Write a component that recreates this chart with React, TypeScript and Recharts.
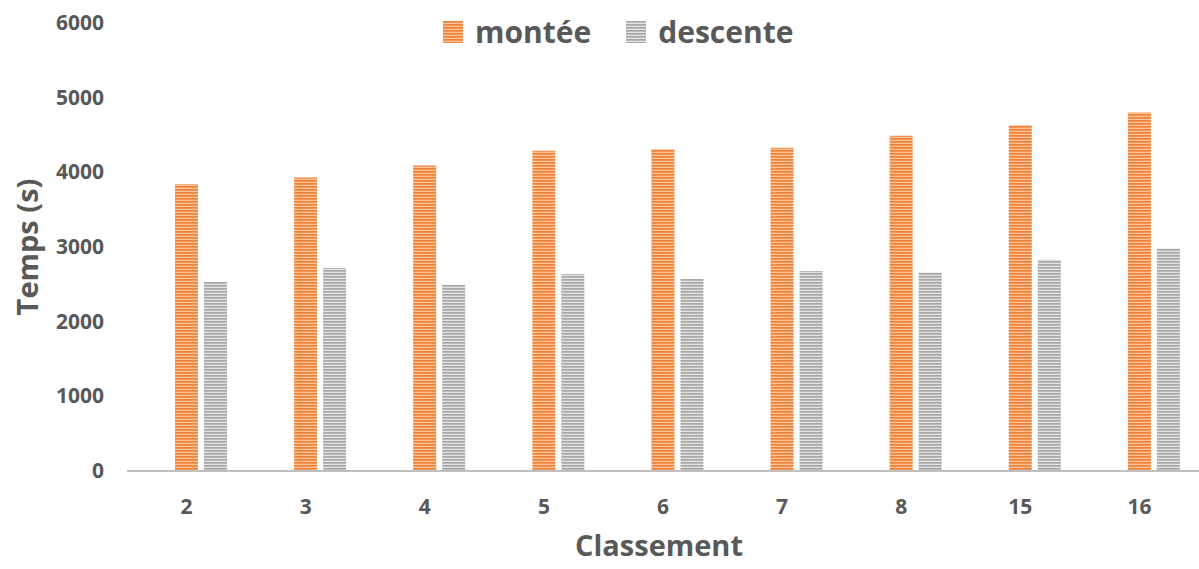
import React from 'react';
import { BarChart, Bar, XAxis, YAxis, Label } from 'recharts';

const categories = ['2', '3', '4', '5', '6', '7', '8', '15', '16'];
const montee = [3840, 3930, 4090, 4290, 4310, 4330, 4490, 4630, 4800];
const descente = [2530, 2720, 2490, 2640, 2570, 2680, 2660, 2830, 2980];
const yTicks = [0, 1000, 2000, 3000, 4000, 5000, 6000];
const seriesNames = ['montée', 'descente'];

const data = categories.map((c, i) => ({ cat: c, montee: montee[i], descente: descente[i] }));

const FONT = '"Open Sans", "Liberation Sans", sans-serif';
const TXT = '#595959';

const YTick = (props: any) => {
  const { y, payload } = props;
  return (
    <text x={104} y={y} dy={7} textAnchor="end" fontFamily={FONT} fontWeight={700} fontSize={21} fill={TXT}>
      {payload.value}
    </text>
  );
};

const XTick = (props: any) => {
  const { x, y, payload } = props;
  return (
    <text x={x} y={y} dy={35} textAnchor="middle" fontFamily={FONT} fontWeight={700} fontSize={21} fill={TXT}>
      {payload.value}
    </text>
  );
};

export default function App() {
  return (
    <div style={{ position: 'absolute', left: 0, top: 0, width: 1199, height: 569, background: '#fff' }}>
      <svg width={0} height={0} style={{ position: 'absolute' }}>
        <defs>
          <pattern id="stripeOrange" patternUnits="userSpaceOnUse" width={4} height={3}>
            <rect x={0} y={0} width={4} height={3} fill="#F9C39C" />
            <rect x={0} y={0} width={4} height={1.7} fill="#EF8236" />
          </pattern>
          <pattern id="stripeGrey" patternUnits="userSpaceOnUse" width={4} height={3}>
            <rect x={0} y={0} width={4} height={3} fill="#E2E2E2" />
            <rect x={0} y={0} width={4} height={1.7} fill="#A8A8A8" />
          </pattern>
        </defs>
      </svg>
      <div
        style={{
          position: 'absolute',
          left: 443,
          top: 12,
          display: 'flex',
          alignItems: 'center',
          fontFamily: FONT,
          fontWeight: 700,
          fontSize: 30,
          color: TXT,
          zIndex: 2,
        }}
      >
        {seriesNames.map((n, i) => (
          <div key={n} style={{ display: 'flex', alignItems: 'center', marginRight: i === 0 ? 35 : 0 }}>
            <svg width={20} height={22} style={{ marginRight: 12 }}>
              <rect x={0} y={0} width={20} height={22} fill={i === 0 ? 'url(#stripeOrange)' : 'url(#stripeGrey)'} />
            </svg>
            <span style={{ lineHeight: '40px' }}>{n}</span>
          </div>
        ))}
      </div>
      <BarChart
        width={1199}
        height={569}
        data={data}
        margin={{ top: 23, right: 0, left: 0, bottom: 0 }}
        barSize={23}
        barGap={6}
      >
        <XAxis
          dataKey="cat"
          height={98}
          axisLine={{ stroke: '#BFBFBF', strokeWidth: 2 }}
          tickLine={false}
          tick={<XTick />}
          interval={0}
        >
          <Label
            content={(p: any) => {
              const vb = p.viewBox;
              return (
                <text x={vb.x + vb.width / 2 - 4} y={556} textAnchor="middle" fontFamily={FONT} fontWeight={700} fontSize={29} fill={TXT}>
                  Classement
                </text>
              );
            }}
          />
        </XAxis>
        <YAxis
          width={127}
          domain={[0, 6000]}
          ticks={yTicks}
          axisLine={false}
          tickLine={false}
          tick={<YTick />}
          interval={0}
        >
          <Label
            content={(p: any) => {
              const vb = p.viewBox;
              const cy = vb.y + vb.height / 2;
              return (
                <text x={38} y={cy} transform={`rotate(-90 38 ${cy})`} textAnchor="middle" fontFamily={FONT} fontWeight={700} fontSize={29} fill={TXT}>
                  Temps (s)
                </text>
              );
            }}
          />
        </YAxis>
        <Bar dataKey="spacer" fill="transparent" legendType="none" isAnimationActive={false} />
        <Bar dataKey="montee" name={seriesNames[0]} fill="url(#stripeOrange)" isAnimationActive={false} />
        <Bar dataKey="descente" name={seriesNames[1]} fill="url(#stripeGrey)" isAnimationActive={false} />
      </BarChart>
    </div>
  );
}
